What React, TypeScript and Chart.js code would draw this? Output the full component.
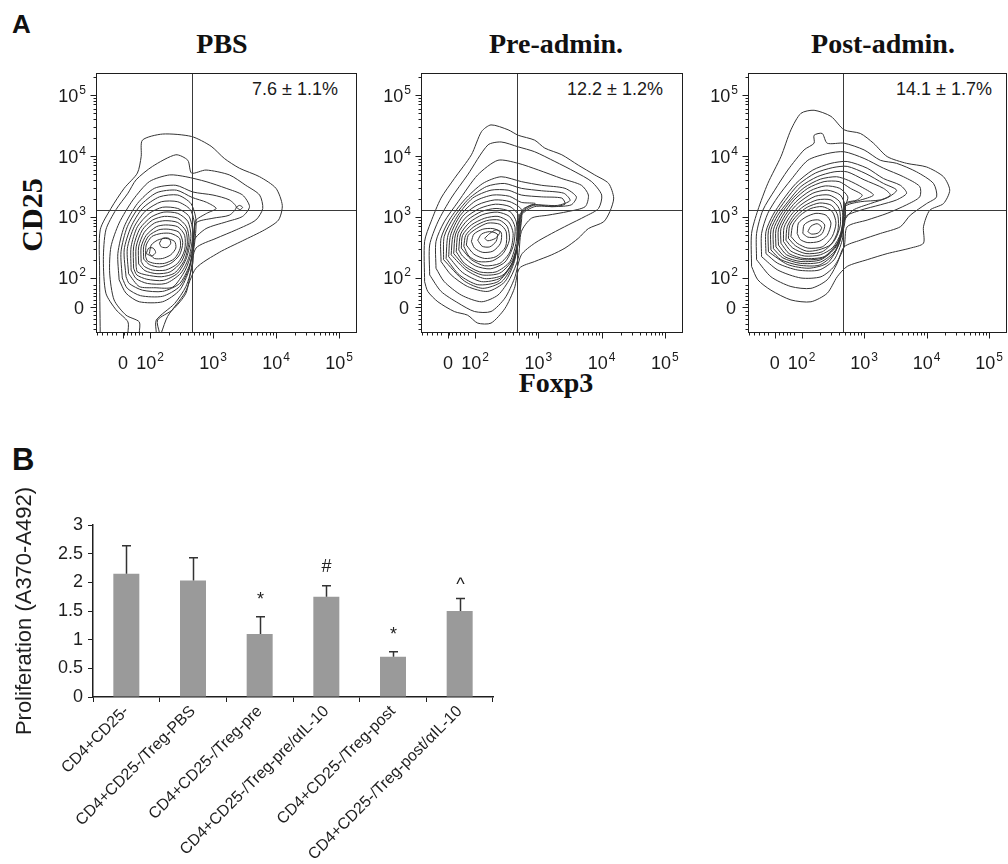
import React, { useEffect, useRef } from "react";
import { Chart, registerables } from "chart.js";
Chart.register(...registerables);

const SANS = '"Liberation Sans", Arial, Helvetica, sans-serif';
const SERIF = '"Liberation Serif", "Times New Roman", Times, serif';

// ---------- Panel A: flow cytometry contour plots (axes in display decades) ----------
const PANEL_TITLES = ["PBS", "Pre-admin.", "Post-admin."];
const QUADRANT_PCT = ["7.6 ± 1.1%", "12.2 ± 1.2%", "14.1 ± 1.7%"];
const GATE_FOXP3 = 2.66;
const GATE_CD25 = 3.115;
const FOXP3_RANGE = [1.143, 5.286];
const CD25_RANGE = [1.098, 5.361];
const DECADE_TICKS = [2, 3, 4, 5];
const DECADE_EXP = ["2", "3", "4", "5"];
const ZERO_X = 1.571;
const ZERO_Y = 1.52;
const LIN_MINOR = [1.16, 1.24, 1.32, 1.4, 1.46, 1.58, 1.64, 1.7, 1.76, 1.82, 1.88];

const PBS_CONTOURS = [
  [[1.21,1.10],[1.20,2.13],[1.21,2.79],[1.38,3.14],[1.59,3.47],[1.80,3.72],[1.86,3.99],[1.88,4.26],[2.20,4.36],[2.66,4.32],[2.97,4.16],[3.18,3.96],[3.42,3.80],[3.74,3.66],[4.00,3.47],[4.10,3.19],[4.04,2.95],[3.82,2.79],[3.47,2.61],[3.10,2.42],[2.73,2.16],[2.55,1.75],[2.28,1.37],[2.18,1.10]],
  [[1.65,1.10],[1.65,1.28],[1.46,1.48],[1.30,1.75],[1.26,2.30],[1.30,2.79],[1.46,3.12],[1.65,3.39],[1.78,3.61],[2.04,3.83],[2.41,4.02],[2.60,3.93],[2.66,3.72],[2.89,3.77],[3.26,3.69],[3.52,3.52],[3.74,3.36],[3.79,3.14],[3.68,2.95],[3.37,2.79],[3.05,2.65],[2.73,2.49],[2.65,2.13],[2.57,1.75],[2.36,1.48],[2.12,1.31],[2.15,1.10]],
  [[1.83,1.10],[1.83,1.28],[1.62,1.39],[1.43,1.64],[1.36,2.08],[1.38,2.51],[1.51,2.90],[1.73,3.28],[1.99,3.58],[2.31,3.69],[2.57,3.66],[2.89,3.58],[3.21,3.47],[3.47,3.36],[3.58,3.17],[3.47,3.01],[3.21,2.92],[2.89,2.81],[2.70,2.62],[2.68,2.24],[2.57,1.86],[2.39,1.58],[2.10,1.31],[2.10,1.10]],
  [[1.51,1.97],[1.49,2.40],[1.59,2.84],[1.80,3.22],[2.07,3.47],[2.41,3.52],[2.68,3.41],[3.00,3.36],[3.26,3.28],[3.37,3.16],[3.26,3.03],[3.00,2.98],[2.73,2.90],[2.68,2.51],[2.62,2.13],[2.47,1.80],[2.20,1.61],[1.83,1.61],[1.62,1.75],[1.51,1.97]],
  [[1.56,2.00],[1.54,2.43],[1.64,2.84],[1.84,3.18],[2.11,3.40],[2.42,3.44],[2.67,3.32],[2.90,3.24],[3.05,3.14],[2.90,3.06],[2.72,2.93],[2.69,2.50],[2.62,2.16],[2.47,1.86],[2.20,1.70],[1.85,1.71],[1.64,1.83],[1.56,2.00]],
  [[1.62,2.02],[1.59,2.46],[1.70,2.84],[1.88,3.14],[2.15,3.33],[2.44,3.36],[2.65,3.22],[2.73,2.95],[2.70,2.51],[2.62,2.19],[2.47,1.91],[2.20,1.78],[1.88,1.80],[1.67,1.91],[1.62,2.02]],
  [[1.66,2.07],[1.64,2.48],[1.75,2.84],[1.93,3.10],[2.18,3.25],[2.44,3.25],[2.64,3.12],[2.71,2.85],[2.66,2.43],[2.56,2.13],[2.36,1.85],[2.08,1.84],[1.83,1.86],[1.66,2.07]],
  [[1.70,2.13],[1.70,2.51],[1.80,2.84],[1.99,3.06],[2.20,3.16],[2.44,3.14],[2.62,3.01],[2.68,2.73],[2.62,2.35],[2.49,2.08],[2.25,1.91],[1.96,1.91],[1.78,1.99],[1.70,2.13]],
  [[1.74,2.16],[1.74,2.51],[1.84,2.81],[2.02,3.00],[2.22,3.08],[2.44,3.06],[2.60,2.93],[2.65,2.68],[2.58,2.33],[2.44,2.08],[2.21,1.96],[1.95,1.98],[1.79,2.05],[1.74,2.16]],
  [[1.78,2.19],[1.78,2.51],[1.88,2.79],[2.04,2.95],[2.23,3.01],[2.44,2.98],[2.58,2.84],[2.62,2.62],[2.55,2.30],[2.39,2.08],[2.18,2.02],[1.94,2.05],[1.80,2.10],[1.78,2.19]],
  [[1.82,2.23],[1.82,2.51],[1.91,2.75],[2.07,2.90],[2.24,2.94],[2.44,2.91],[2.57,2.77],[2.59,2.54],[2.50,2.27],[2.32,2.10],[2.11,2.07],[1.92,2.12],[1.82,2.23]],
  [[1.86,2.27],[1.86,2.51],[1.94,2.70],[2.10,2.84],[2.25,2.87],[2.44,2.84],[2.55,2.70],[2.55,2.46],[2.44,2.24],[2.25,2.13],[2.04,2.13],[1.91,2.19],[1.86,2.27]],
  [[1.90,2.31],[1.90,2.52],[1.98,2.69],[2.14,2.79],[2.29,2.80],[2.46,2.75],[2.52,2.58],[2.47,2.38],[2.33,2.24],[2.15,2.18],[1.99,2.22],[1.90,2.31]],
  [[1.93,2.35],[1.94,2.54],[2.03,2.68],[2.18,2.73],[2.33,2.73],[2.47,2.65],[2.48,2.49],[2.39,2.32],[2.23,2.24],[2.07,2.24],[1.96,2.28],[1.93,2.35]],
  [[1.99,2.40],[2.02,2.54],[2.12,2.62],[2.25,2.65],[2.39,2.60],[2.41,2.49],[2.33,2.38],[2.20,2.32],[2.07,2.32],[1.99,2.40]],
  [[1.94,2.40],[1.98,2.49],[2.05,2.49],[2.09,2.42],[2.03,2.36],[1.94,2.40]],
  [[2.15,2.57],[2.20,2.65],[2.30,2.65],[2.33,2.57],[2.27,2.50],[2.18,2.51],[2.15,2.57]],
  [[3.37,3.16],[3.42,3.19],[3.47,3.16],[3.43,3.12],[3.37,3.16]],
];

const PRE_CONTOURS = [
  [[1.20,1.94],[1.20,2.60],[1.30,2.92],[1.46,3.31],[1.67,3.63],[1.94,4.02],[2.10,4.40],[2.25,4.51],[2.52,4.43],[2.68,4.34],[2.94,4.26],[3.10,4.13],[3.37,4.02],[3.63,3.85],[3.89,3.69],[4.11,3.55],[4.19,3.31],[4.13,3.09],[4.03,2.92],[3.79,2.81],[3.63,2.65],[3.42,2.49],[3.21,2.38],[2.94,2.27],[2.70,2.16],[2.62,1.83],[2.47,1.50],[2.25,1.26],[2.04,1.26],[1.88,1.39],[1.67,1.45],[1.41,1.61],[1.25,1.78],[1.20,1.94]],
  [[1.28,2.05],[1.28,2.54],[1.41,2.92],[1.62,3.31],[1.88,3.69],[2.20,4.18],[2.41,4.23],[2.68,4.15],[2.94,4.07],[3.26,3.91],[3.58,3.74],[3.84,3.58],[4.00,3.36],[3.95,3.14],[3.74,3.01],[3.47,2.87],[3.21,2.73],[2.94,2.57],[2.73,2.38],[2.62,1.99],[2.47,1.67],[2.25,1.45],[1.99,1.45],[1.73,1.59],[1.46,1.78],[1.28,2.05]],
  [[1.38,2.16],[1.38,2.60],[1.51,2.92],[1.73,3.25],[2.04,3.69],[2.36,3.93],[2.68,3.88],[3.00,3.77],[3.37,3.63],[3.68,3.52],[3.79,3.36],[3.74,3.17],[3.47,3.09],[3.15,3.03],[2.89,2.98],[2.73,2.76],[2.68,2.32],[2.55,1.99],[2.36,1.72],[2.10,1.61],[1.78,1.72],[1.51,1.94],[1.38,2.16]],
  [[1.46,2.27],[1.46,2.65],[1.59,2.95],[1.83,3.28],[2.12,3.55],[2.41,3.66],[2.73,3.58],[3.05,3.52],[3.42,3.47],[3.60,3.33],[3.52,3.20],[3.26,3.17],[2.94,3.17],[2.73,3.03],[2.68,2.65],[2.62,2.27],[2.47,1.94],[2.20,1.78],[1.88,1.86],[1.62,2.05],[1.46,2.27]],
  [[1.50,2.30],[1.51,2.68],[1.66,2.99],[1.90,3.30],[2.18,3.50],[2.46,3.55],[2.73,3.47],[3.05,3.43],[3.40,3.39],[3.50,3.27],[3.30,3.19],[2.92,3.19],[2.72,3.04],[2.68,2.62],[2.60,2.24],[2.42,1.94],[2.12,1.83],[1.83,1.95],[1.50,2.30]],
  [[1.54,2.32],[1.57,2.70],[1.73,3.03],[1.96,3.31],[2.25,3.44],[2.52,3.44],[2.73,3.36],[3.05,3.33],[3.37,3.31],[3.42,3.21],[3.21,3.17],[2.89,3.20],[2.70,3.03],[2.68,2.60],[2.57,2.21],[2.36,1.94],[2.04,1.89],[1.75,2.05],[1.54,2.32]],
  [[1.58,2.35],[1.61,2.70],[1.76,3.02],[2.00,3.26],[2.28,3.36],[2.54,3.34],[2.73,3.24],[2.95,3.22],[2.75,3.12],[2.70,2.66],[2.60,2.27],[2.40,2.00],[2.10,1.94],[1.80,2.09],[1.58,2.35]],
  [[1.62,2.38],[1.65,2.70],[1.80,3.01],[2.04,3.20],[2.31,3.28],[2.55,3.25],[2.73,3.12],[2.70,2.70],[2.62,2.32],[2.44,2.05],[2.15,1.99],[1.86,2.13],[1.62,2.38]],
  [[1.66,2.40],[1.69,2.72],[1.84,2.98],[2.07,3.14],[2.32,3.21],[2.55,3.17],[2.69,3.02],[2.68,2.65],[2.59,2.30],[2.39,2.08],[2.11,2.05],[1.85,2.18],[1.66,2.40]],
  [[1.70,2.43],[1.73,2.73],[1.88,2.95],[2.10,3.09],[2.33,3.14],[2.55,3.09],[2.65,2.92],[2.65,2.60],[2.55,2.27],[2.33,2.10],[2.07,2.10],[1.83,2.24],[1.70,2.43]],
  [[1.74,2.46],[1.77,2.72],[1.91,2.91],[2.12,3.04],[2.35,3.08],[2.54,3.01],[2.63,2.83],[2.60,2.52],[2.47,2.26],[2.24,2.15],[2.00,2.20],[1.80,2.36],[1.74,2.46]],
  [[1.78,2.49],[1.80,2.70],[1.94,2.87],[2.15,2.98],[2.36,3.01],[2.53,2.92],[2.60,2.73],[2.55,2.43],[2.39,2.24],[2.15,2.20],[1.94,2.30],[1.78,2.49]],
  [[1.82,2.52],[1.85,2.70],[1.98,2.84],[2.18,2.94],[2.38,2.95],[2.51,2.84],[2.54,2.62],[2.44,2.40],[2.27,2.28],[2.05,2.27],[1.90,2.36],[1.82,2.52]],
  [[1.86,2.54],[1.89,2.70],[2.02,2.81],[2.20,2.90],[2.39,2.88],[2.49,2.76],[2.48,2.51],[2.33,2.35],[2.15,2.32],[1.98,2.39],[1.86,2.54]],
  [[1.94,2.60],[1.98,2.72],[2.12,2.80],[2.28,2.81],[2.41,2.75],[2.40,2.57],[2.28,2.44],[2.12,2.42],[1.99,2.49],[1.94,2.60]],
  [[2.04,2.62],[2.10,2.72],[2.23,2.76],[2.35,2.72],[2.33,2.60],[2.23,2.51],[2.11,2.52],[2.04,2.62]],
  [[2.15,2.65],[2.23,2.73],[2.33,2.79],[2.39,2.75],[2.32,2.65],[2.20,2.61],[2.15,2.65]],
];

const POST_CONTOURS = [
  [[1.20,2.19],[1.20,2.73],[1.30,3.11],[1.46,3.55],[1.67,3.99],[1.83,4.43],[1.99,4.70],[2.20,4.75],[2.47,4.65],[2.68,4.43],[2.94,4.37],[3.15,4.21],[3.37,3.99],[3.68,3.88],[4.00,3.82],[4.27,3.66],[4.37,3.44],[4.27,3.22],[4.05,3.11],[3.95,2.84],[3.95,2.57],[3.74,2.49],[3.37,2.40],[3.05,2.30],[2.73,2.19],[2.57,2.02],[2.41,1.75],[2.15,1.61],[1.83,1.64],[1.51,1.80],[1.30,1.97],[1.20,2.19]],
  [[1.28,2.30],[1.28,2.73],[1.38,3.11],[1.57,3.44],[1.78,3.77],[2.04,4.10],[2.20,4.21],[2.20,4.34],[2.33,4.37],[2.41,4.21],[2.68,4.21],[3.00,4.10],[3.26,3.93],[3.52,3.88],[3.84,3.74],[4.11,3.55],[4.16,3.33],[4.00,3.22],[3.74,3.03],[3.58,2.84],[3.26,2.73],[2.94,2.62],[2.68,2.51],[2.57,2.24],[2.41,1.97],[2.15,1.83],[1.83,1.86],[1.51,2.02],[1.28,2.30]],
  [[1.36,2.35],[1.36,2.73],[1.46,3.06],[1.62,3.33],[1.83,3.61],[2.10,3.93],[2.41,4.04],[2.68,4.07],[3.00,3.96],[3.31,3.80],[3.63,3.66],[3.89,3.50],[3.89,3.33],[3.68,3.20],[3.37,3.06],[3.05,2.95],[2.73,2.84],[2.68,2.51],[2.52,2.19],[2.31,2.02],[1.99,2.00],[1.62,2.13],[1.36,2.35]],
  [[1.43,2.40],[1.43,2.76],[1.54,3.03],[1.70,3.28],[1.91,3.55],[2.18,3.77],[2.47,3.88],[2.73,3.91],[3.05,3.80],[3.31,3.63],[3.58,3.52],[3.68,3.39],[3.52,3.28],[3.26,3.20],[2.94,3.11],[2.70,3.00],[2.65,2.62],[2.52,2.30],[2.28,2.13],[1.94,2.13],[1.62,2.24],[1.43,2.40]],
  [[1.47,2.43],[1.47,2.78],[1.58,3.03],[1.74,3.27],[1.95,3.53],[2.22,3.72],[2.50,3.81],[2.73,3.83],[3.03,3.71],[3.31,3.55],[3.52,3.44],[3.38,3.32],[3.10,3.22],[2.82,3.11],[2.68,2.93],[2.60,2.56],[2.42,2.25],[2.12,2.16],[1.78,2.22],[1.47,2.43]],
  [[1.51,2.46],[1.51,2.79],[1.62,3.03],[1.78,3.25],[1.99,3.50],[2.25,3.66],[2.52,3.74],[2.73,3.74],[3.00,3.61],[3.31,3.47],[3.42,3.36],[3.26,3.28],[2.94,3.25],[2.70,3.17],[2.65,2.73],[2.52,2.40],[2.28,2.21],[1.96,2.21],[1.67,2.30],[1.51,2.46]],
  [[1.55,2.48],[1.55,2.79],[1.66,3.03],[1.83,3.27],[2.04,3.48],[2.30,3.62],[2.56,3.66],[2.75,3.60],[2.98,3.48],[3.15,3.36],[2.92,3.27],[2.70,3.20],[2.65,2.78],[2.54,2.45],[2.30,2.26],[1.98,2.24],[1.70,2.33],[1.55,2.48]],
  [[1.59,2.51],[1.59,2.79],[1.70,3.03],[1.88,3.28],[2.10,3.47],[2.36,3.58],[2.60,3.58],[2.78,3.47],[2.97,3.36],[2.89,3.28],[2.70,3.22],[2.65,2.84],[2.55,2.51],[2.31,2.30],[1.99,2.27],[1.73,2.35],[1.59,2.51]],
  [[1.63,2.54],[1.63,2.80],[1.74,3.03],[1.91,3.25],[2.14,3.43],[2.38,3.51],[2.61,3.47],[2.74,3.33],[2.70,3.18],[2.67,2.84],[2.56,2.54],[2.34,2.33],[2.02,2.30],[1.76,2.38],[1.63,2.54]],
  [[1.67,2.57],[1.67,2.81],[1.78,3.03],[1.94,3.22],[2.18,3.39],[2.41,3.44],[2.62,3.36],[2.70,3.17],[2.68,2.84],[2.57,2.57],[2.36,2.35],[2.04,2.32],[1.80,2.40],[1.67,2.57]],
  [[1.71,2.60],[1.72,2.83],[1.83,3.03],[1.99,3.20],[2.22,3.34],[2.44,3.36],[2.61,3.25],[2.66,3.02],[2.63,2.74],[2.50,2.50],[2.30,2.38],[2.05,2.36],[1.83,2.44],[1.71,2.60]],
  [[1.75,2.62],[1.77,2.84],[1.88,3.03],[2.04,3.18],[2.25,3.28],[2.47,3.28],[2.60,3.14],[2.62,2.87],[2.53,2.62],[2.33,2.43],[2.07,2.40],[1.86,2.49],[1.75,2.62]],
  [[1.79,2.65],[1.81,2.86],[1.93,3.03],[2.09,3.16],[2.29,3.23],[2.48,3.19],[2.58,3.02],[2.58,2.77],[2.47,2.55],[2.27,2.46],[2.08,2.44],[1.90,2.53],[1.79,2.65]],
  [[1.83,2.68],[1.86,2.87],[1.98,3.03],[2.15,3.14],[2.33,3.17],[2.49,3.09],[2.55,2.90],[2.49,2.68],[2.33,2.51],[2.10,2.49],[1.93,2.57],[1.83,2.68]],
  [[1.93,2.73],[1.95,2.90],[2.07,3.00],[2.23,3.06],[2.39,3.03],[2.47,2.90],[2.41,2.70],[2.28,2.60],[2.10,2.58],[1.98,2.63],[1.93,2.73]],
  [[2.02,2.73],[2.04,2.87],[2.15,2.94],[2.28,2.95],[2.37,2.87],[2.33,2.73],[2.23,2.67],[2.10,2.67],[2.02,2.73]],
  [[2.10,2.76],[2.15,2.85],[2.25,2.89],[2.32,2.83],[2.27,2.74],[2.16,2.72],[2.10,2.76]],
];

// ---------- Panel B: proliferation bar chart ----------
const GROUPS = [
  "CD4+CD25-",
  "CD4+CD25-/Treg-PBS",
  "CD4+CD25-/Treg-pre",
  "CD4+CD25-/Treg-pre/αIL-10",
  "CD4+CD25-/Treg-post",
  "CD4+CD25-/Treg-post/αIL-10",
];
const PROLIF_MEAN = [2.15, 2.03, 1.1, 1.75, 0.7, 1.5];
const PROLIF_ERR = [0.49, 0.4, 0.3, 0.19, 0.09, 0.22];
const SIG_MARK = ["", "", "*", "#", "*", "^"];
const PROLIF_MAX = 3;
const PROLIF_STEP = 0.5;

function drawPow(ctx: CanvasRenderingContext2D, exp: string, x: number, yMid: number, align: "right" | "center") {
  ctx.font = `18px ${SANS}`;
  const wb = ctx.measureText("10").width;
  ctx.font = `12px ${SANS}`;
  const we = ctx.measureText(exp).width;
  const total = wb + we + 1;
  const sx = align === "right" ? x - total : x - total / 2;
  const yb = yMid + 6.5;
  ctx.textAlign = "left";
  ctx.textBaseline = "alphabetic";
  ctx.font = `18px ${SANS}`;
  ctx.fillText("10", sx, yb);
  ctx.font = `12px ${SANS}`;
  ctx.fillText(exp, sx + wb + 1, yb - 8);
}

const flowAxesPlugin = {
  id: "flowAxes",
  afterDraw(chart: any) {
    const { ctx, chartArea: a, scales } = chart;
    const xs = scales.x;
    const ys = scales.y;
    const L = Math.round(a.left) + 0.5;
    const R = Math.round(a.right) - 0.5;
    const T = Math.round(a.top) + 0.5;
    const B = Math.round(a.bottom) - 0.5;
    ctx.save();
    ctx.lineWidth = 1;
    ctx.strokeStyle = "#3a3a3a";
    const gx = Math.round(xs.getPixelForValue(GATE_FOXP3)) + 0.5;
    const gy = Math.round(ys.getPixelForValue(GATE_CD25)) + 0.5;
    ctx.beginPath();
    ctx.moveTo(gx, T); ctx.lineTo(gx, B);
    ctx.moveTo(L, gy); ctx.lineTo(R, gy);
    ctx.stroke();
    ctx.strokeStyle = "#1e1e1e";
    ctx.strokeRect(L, T, R - L, B - T);
    const minorY: number[] = [...LIN_MINOR];
    const minorX: number[] = [...LIN_MINOR];
    for (let n = 2; n <= 5; n++) {
      for (let k = 2; k <= 9; k++) {
        const v = n + Math.log10(k);
        if (v < CD25_RANGE[1]) minorY.push(v);
        if (v < FOXP3_RANGE[1] - 0.05) minorX.push(v);
      }
    }
    ctx.beginPath();
    minorY.forEach((v) => {
      const p = Math.round(ys.getPixelForValue(v)) + 0.5;
      ctx.moveTo(L - 3, p); ctx.lineTo(L, p);
    });
    minorX.forEach((v) => {
      const p = Math.round(xs.getPixelForValue(v)) + 0.5;
      ctx.moveTo(p, B); ctx.lineTo(p, B + 3);
    });
    [...DECADE_TICKS, ZERO_Y].forEach((v) => {
      const p = Math.round(ys.getPixelForValue(v)) + 0.5;
      ctx.moveTo(L - 6, p); ctx.lineTo(L, p);
    });
    [...DECADE_TICKS, ZERO_X].forEach((v) => {
      const p = Math.round(xs.getPixelForValue(v)) + 0.5;
      ctx.moveTo(p, B); ctx.lineTo(p, B + 6);
    });
    ctx.stroke();
    ctx.fillStyle = "#1a1a1a";
    DECADE_TICKS.forEach((v, i) => {
      drawPow(ctx, DECADE_EXP[i], a.left - 10, ys.getPixelForValue(v), "right");
      drawPow(ctx, DECADE_EXP[i], xs.getPixelForValue(v), a.bottom + 29.5, "center");
    });
    ctx.font = `18px ${SANS}`;
    ctx.textBaseline = "alphabetic";
    ctx.textAlign = "right";
    ctx.fillText("0", a.left - 12, ys.getPixelForValue(ZERO_Y) + 6.5);
    ctx.textAlign = "center";
    ctx.fillText("0", xs.getPixelForValue(ZERO_X), a.bottom + 36);
    ctx.restore();
  },
};

function FlowPlot(props: { contours: number[][][]; left: number; top: number; width: number; height: number; pad: any }) {
  const ref = useRef<HTMLCanvasElement>(null);
  useEffect(() => {
    const chart = new Chart(ref.current as HTMLCanvasElement, {
      type: "scatter",
      data: {
        datasets: props.contours.map((ring) => ({
          data: ring.map(([x, y]) => ({ x, y })),
          showLine: true,
          borderColor: "#333333",
          borderWidth: 1,
          pointRadius: 0,
          pointHoverRadius: 0,
          tension: 0.25,
          fill: false,
        })),
      },
      options: {
        animation: false,
        responsive: false,
        devicePixelRatio: 1,
        events: [],
        layout: { padding: props.pad },
        plugins: { legend: { display: false }, tooltip: { enabled: false } },
        scales: {
          x: { type: "linear", min: FOXP3_RANGE[0], max: FOXP3_RANGE[1], display: false },
          y: { type: "linear", min: CD25_RANGE[0], max: CD25_RANGE[1], display: false },
        },
      },
      plugins: [flowAxesPlugin],
    } as any);
    return () => chart.destroy();
  }, []);
  return (
    <canvas
      ref={ref}
      width={props.width}
      height={props.height}
      style={{ position: "absolute", left: props.left, top: props.top, width: props.width, height: props.height }}
    />
  );
}

const barExtrasPlugin = {
  id: "barExtras",
  afterDatasetsDraw(chart: any) {
    const { ctx, scales } = chart;
    const meta = chart.getDatasetMeta(0);
    ctx.save();
    ctx.strokeStyle = "#333333";
    ctx.lineWidth = 1.5;
    ctx.fillStyle = "#222222";
    meta.data.forEach((bar: any, i: number) => {
      const x = Math.round(bar.x) + 0.5;
      const yTop = scales.y.getPixelForValue(PROLIF_MEAN[i]);
      const yErr = scales.y.getPixelForValue(PROLIF_MEAN[i] + PROLIF_ERR[i]);
      ctx.beginPath();
      ctx.moveTo(x, yTop);
      ctx.lineTo(x, yErr);
      ctx.moveTo(x - 4.5, yErr);
      ctx.lineTo(x + 4.5, yErr);
      ctx.stroke();
      if (SIG_MARK[i]) {
        ctx.font = `18px ${SANS}`;
        ctx.textAlign = "center";
        ctx.textBaseline = "middle";
        const off = SIG_MARK[i] === "^" ? 13 : SIG_MARK[i] === "*" ? 17 : 19;
        ctx.fillText(SIG_MARK[i], x, yErr - off);
      }
    });
    ctx.restore();
  },
};

function ProliferationChart() {
  const ref = useRef<HTMLCanvasElement>(null);
  useEffect(() => {
    const chart = new Chart(ref.current as HTMLCanvasElement, {
      type: "bar",
      data: {
        labels: GROUPS,
        datasets: [
          {
            data: PROLIF_MEAN,
            backgroundColor: "#9a9a9a",
            borderWidth: 0,
            categoryPercentage: 1,
            barPercentage: 0.39,
          },
        ],
      },
      options: {
        animation: false,
        responsive: false,
        devicePixelRatio: 1,
        events: [],
        layout: { padding: { top: 85, right: 27, left: 0, bottom: 0 } },
        plugins: { legend: { display: false }, tooltip: { enabled: false } },
        scales: {
          x: {
            border: { display: true, color: "#1e1e1e", width: 1.5 },
            grid: { display: true, drawOnChartArea: false, drawTicks: true, tickLength: 5, color: "#1e1e1e", offset: true },
            ticks: {
              autoSkip: false,
              minRotation: 45,
              maxRotation: 45,
              padding: 0,
              color: "#1e1e1e",
              font: { size: 16, family: SANS },
            },
            afterFit: (s: any) => {
              s.height = 167;
            },
          },
          y: {
            min: 0,
            max: PROLIF_MAX,
            border: { display: true, color: "#1e1e1e", width: 1.5 },
            grid: { display: true, drawOnChartArea: false, drawTicks: true, tickLength: 5, color: "#1e1e1e" },
            ticks: {
              stepSize: PROLIF_STEP,
              padding: 5,
              color: "#1e1e1e",
              font: { size: 18, family: SANS },
              callback: (v: any) => String(Number(v)),
            },
            title: {
              display: true,
              text: "Proliferation (A370-A492)",
              color: "#1e1e1e",
              font: { size: 22, family: SANS },
              padding: { top: 12, bottom: 0 },
            },
            afterFit: (s: any) => {
              s.width = 93;
            },
          },
        },
      },
      plugins: [barExtrasPlugin],
    } as any);
    return () => chart.destroy();
  }, []);
  return <canvas ref={ref} width={520} height={424} style={{ position: "absolute", left: 0, top: 440, width: 520, height: 424 }} />;
}

const abs = (s: React.CSSProperties): React.CSSProperties => ({ position: "absolute", whiteSpace: "nowrap", lineHeight: 1, ...s });

export default function App() {
  const titleCenters = [222, 556, 883];
  const pctLefts = [252, 567, 896];
  return (
    <div style={{ position: "absolute", left: 0, top: 0, width: 1008, height: 864, background: "#fff", overflow: "hidden" }}>
      <div style={abs({ left: 12, top: 11, fontFamily: SANS, fontWeight: 700, fontSize: 26, color: "#111" })}>A</div>
      {PANEL_TITLES.map((t, i) => (
        <div
          key={t}
          style={abs({ left: titleCenters[i], top: 30, transform: "translateX(-50%)", fontFamily: SERIF, fontWeight: 700, fontSize: 28, color: "#111" })}
        >
          {t}
        </div>
      ))}
      {QUADRANT_PCT.map((t, i) => (
        <div key={t} style={abs({ left: pctLefts[i], top: 80, fontFamily: SANS, fontSize: 18, color: "#1a1a1a" })}>
          {t}
        </div>
      ))}
      <div
        style={abs({ left: 32, top: 215, transform: "translate(-50%, -50%) rotate(-90deg)", fontFamily: SERIF, fontWeight: 700, fontSize: 30, color: "#111" })}
      >
        CD25
      </div>
      <div style={abs({ left: 556, top: 369, transform: "translateX(-50%)", fontFamily: SERIF, fontWeight: 700, fontSize: 28, color: "#111" })}>
        Foxp3
      </div>
      <FlowPlot contours={PBS_CONTOURS} left={40} top={60} width={325} height={320} pad={{ left: 56, top: 13, right: 8, bottom: 47 }} />
      <FlowPlot contours={PRE_CONTOURS} left={365} top={60} width={330} height={320} pad={{ left: 56, top: 13, right: 12, bottom: 47 }} />
      <FlowPlot contours={POST_CONTOURS} left={692} top={60} width={316} height={320} pad={{ left: 56, top: 13, right: 1, bottom: 47 }} />
      <div style={abs({ left: 12, top: 444, fontFamily: SANS, fontWeight: 700, fontSize: 31, color: "#111" })}>B</div>
      <ProliferationChart />
    </div>
  );
}
